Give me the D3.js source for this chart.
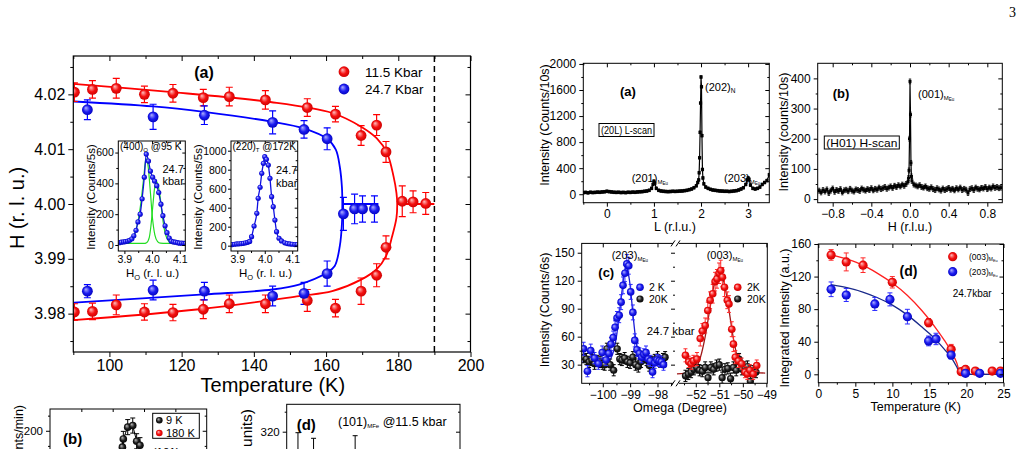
<!DOCTYPE html>
<html><head><meta charset="utf-8">
<script src="https://cdnjs.cloudflare.com/ajax/libs/d3/7.8.5/d3.min.js"></script>
<style>body{margin:0;background:#fff}svg{display:block}</style>
</head><body>
<svg id="c" width="1023" height="449"></svg>
<script>
// ================= DATA =================
// Main panel (a): H vs Temperature
const mainXTicks=[100,120,140,160,180,200];
const mainXMinor=[90,110,130,150,170,190];
const mainYTicks=[3.98,3.99,4.00,4.01,4.02];
const mainYMinor=[3.975,3.985,3.995,4.005,4.015,4.025];
const red115T=[90.3,95.3,101.9,109.7,117.6,126.0,133.2,143.2,154.8,162.6,169.7,174.0,176.6];
const red115Up=[4.0204,4.0209,4.0211,4.0200,4.0202,4.0194,4.0196,4.0190,4.0176,4.0164,4.0125,4.0144,4.0095];
const red115UpErr=[0.0017,0.0016,0.0018,0.0015,0.0016,0.0015,0.0017,0.0017,0.0016,0.0014,0.0018,0.0019,0.0019];
const red115Lo=[3.9803,3.9804,3.9816,3.9803,3.9802,3.9808,3.9818,3.9818,3.9824,3.9810,3.9841,3.9870,3.9921];
const red115LoErr=[0.0015,0.0015,0.0018,0.0015,0.0015,0.0017,0.0016,0.0016,0.0020,0.0016,0.0024,0.0021,0.0021];
const red115HiT=[181.1,184.1,187.6];
const red115Hi=[4.0005,4.0004,4.0001];
const red115HiErr=[0.0028,0.0020,0.0020];
const blue247T=[93.9,112.1,126.3,145.2,153.9,160.3];
const blue247Up=[4.0172,4.0159,4.0162,4.0149,4.0136,4.0119];
const blue247UpErr=[0.0018,0.0023,0.0017,0.0021,0.0016,0.0020];
const blue247Lo=[3.9841,3.9843,3.9841,3.9832,3.9837,3.9873];
const blue247LoErr=[0.0012,0.0018,0.0016,0.0018,0.0020,0.0023];
const blue247HiT=[164.8,167.9,170.1,173.4];
const blue247Hi=[3.9982,3.9991,3.9991,3.9991];
const blue247HiErr=[0.0030,0.0027,0.0024,0.0024];
// fit curves
const red115FitT=[90,115.8,143.3,161.7,169.7,174,176.9,178.7,179.5,179.7,179.5,178.3,176.6,174,169.7,161.7,152.5,124.9,90];
const red115FitH=[4.0219,4.0205,4.0187,4.0166,4.0141,4.0120,4.0093,4.0050,4.0020,4.0000,3.9975,3.9941,3.9905,3.9881,3.9862,3.9841,3.9832,3.9808,3.9788];
const red115FlatT=[179.7,190];
const blue247FitT=[90.2,112.1,126.2,145.2,153.8,160.3,162.7,163.8,164.4,164.5,164.4,163.8,162.4,160.3,152.5,145.2,126.2,90.2];
const blue247FitH=[4.0187,4.0178,4.0168,4.0150,4.0138,4.0119,4.0099,4.0068,4.0030,4.0000,3.9965,3.9923,3.9887,3.9875,3.9853,3.9844,3.9835,3.9820];
const blue247FlatT=[164.5,174.5];
const dashedT=190;
const legendMain=["11.5 Kbar","24.7 Kbar"];

// Inset 1: (400)O @95K
const in1H=[3.882,3.889,3.897,3.904,3.912,3.919,3.927,3.934,3.942,3.949,3.957,3.964,3.972,3.979,3.987,3.994,4.002,4.009,4.017,4.024,4.032,4.039,4.047,4.054,4.062,4.069,4.077,4.084,4.092,4.099,4.107,4.114,4.12];
const in1C=[15,18,20,22,25,30,40,60,95,150,200,300,440,590,545,480,440,415,385,340,265,190,125,80,45,25,20,18,15,12,12,10,10];
const in1G1H=[3.88,3.90,3.92,3.93,3.94,3.95,3.96,3.97,3.978,3.985,3.99,3.995,4.0,4.005,4.01,4.02,4.03,4.05,4.12];
const in1G1C=[12,15,22,38,85,160,280,440,560,520,430,320,200,120,65,22,12,10,10];
const in1G2H=[3.88,3.97,3.98,3.99,3.995,4.0,4.005,4.01,4.017,4.025,4.03,4.035,4.04,4.045,4.05,4.06,4.07,4.09,4.12];
const in1G2C=[10,10,15,50,110,200,300,380,410,360,300,220,150,95,60,25,14,10,10];
// Inset 2: (220)T @172K
const in2H=[3.882,3.890,3.898,3.906,3.914,3.922,3.930,3.938,3.945,3.952,3.961,3.971,3.976,3.983,3.989,3.995,4.000,4.006,4.013,4.019,4.025,4.031,4.037,4.043,4.052,4.061,4.073,4.082,4.091,4.100,4.110,4.118];
const in2C=[12,15,18,20,22,25,30,35,45,95,207,341,499,615,762,867,937,909,849,709,516,411,270,147,78,50,30,22,18,15,12,12];

// Right (a): (20L) L-scan
const lScanL=[-0.5,-0.45,-0.4,-0.35,-0.3,-0.25,-0.2,-0.15,-0.1,-0.05,0,0.05,0.1,0.15,0.2,0.25,0.3,0.35,0.4,0.45,0.5,0.55,0.6,0.65,0.7,0.75,0.8,0.85,0.9,0.95,0.98,1.0,1.02,1.05,1.1,1.15,1.2,1.25,1.3,1.35,1.4,1.45,1.5,1.55,1.6,1.65,1.7,1.75,1.8,1.85,1.9,1.93,1.95,1.96,1.97,1.98,1.99,2.0,2.01,2.02,2.03,2.04,2.06,2.1,2.15,2.2,2.25,2.3,2.35,2.4,2.45,2.5,2.55,2.6,2.65,2.7,2.75,2.8,2.85,2.9,2.95,2.98,3.0,3.02,3.05,3.1,3.15,3.2,3.25,3.3,3.35,3.4,3.45];
const lScanI=[25,28,22,30,26,28,32,30,35,38,45,40,35,30,28,30,26,28,25,30,28,32,30,35,38,40,45,50,60,90,150,200,170,90,60,50,45,42,40,42,45,43,45,48,50,55,60,70,80,100,130,180,220,330,560,950,1400,1800,1650,900,380,250,160,110,90,75,65,60,55,50,48,45,45,42,45,50,55,65,80,100,150,220,250,230,140,90,80,90,110,150,180,210,300];
const lScanErr=20;
// Right (b): (H01) H-scan
const hScanH=[-0.94,-0.92,-0.90,-0.88,-0.86,-0.84,-0.82,-0.80,-0.78,-0.76,-0.74,-0.72,-0.70,-0.68,-0.66,-0.64,-0.62,-0.60,-0.58,-0.56,-0.54,-0.52,-0.50,-0.48,-0.46,-0.44,-0.42,-0.40,-0.38,-0.36,-0.34,-0.32,-0.30,-0.28,-0.26,-0.24,-0.22,-0.20,-0.18,-0.16,-0.14,-0.12,-0.10,-0.08,-0.06,-0.04,-0.02,-0.015,-0.01,-0.005,0,0.005,0.01,0.015,0.02,0.04,0.06,0.08,0.10,0.12,0.14,0.16,0.18,0.20,0.22,0.24,0.26,0.28,0.30,0.32,0.34,0.36,0.38,0.40,0.42,0.44,0.46,0.48,0.50,0.52,0.54,0.56,0.58,0.60,0.62,0.64,0.66,0.68,0.70,0.72,0.74,0.76,0.78,0.80,0.82,0.84,0.86,0.88,0.90,0.92,0.94];
const hScanI=[28,22,30,25,32,20,28,35,24,30,27,33,22,29,31,26,34,28,25,32,30,27,35,31,28,33,30,36,29,34,31,38,33,36,40,34,38,42,37,44,40,46,42,48,44,50,58,70,95,200,390,280,120,75,60,48,45,42,46,40,38,42,36,34,39,33,30,36,32,28,35,30,33,37,31,34,29,36,32,38,30,34,31,20,33,36,30,38,34,32,37,35,40,33,38,35,42,37,40,36,38];
const hScanErr=8;
// Right (c): omega scans
const c2KbOm=[-100.7,-100.56,-100.44,-100.3,-100.16,-100.02,-99.88,-99.78,-99.7,-99.62,-99.55,-99.48,-99.4,-99.33,-99.26,-99.19,-99.12,-99.05,-98.98,-98.9,-98.83,-98.75,-98.66,-98.58,-98.5,-98.42,-98.34,-98.26,-98.18,-98.1,-98.02,-97.94,-97.86,-97.78];
const c2KbI=[47,23,45,37,31,43,35,42,52,59,70,80,83,97,115,128,138,136,108,86,56,46,42,38,41,43,36,34,22,32,35,34,33,30];
const c2KbErr=[7,6,7,6,6,7,6,6,7,7,7,7,8,8,9,9,10,9,8,8,7,7,6,6,6,7,6,6,6,6,6,6,6,6];
const c20KbOm=[-100.7,-100.6,-100.5,-100.4,-100.3,-100.2,-100.1,-100.0,-99.93,-99.85,-99.73,-99.6,-99.47,-99.38,-99.3,-99.2,-99.1,-99.0,-98.9,-98.8,-98.7,-98.6,-98.5,-98.4,-98.3,-98.2,-98.1,-98.0,-97.9,-97.8,-97.72];
const c20KbI=[38,36,33,35,31,34,33,31,30,47,30,24,47,36,35,37,33,32,38,30,28,33,38,35,29,33,35,38,33,36,38];
const cFitBOm=[-100.75,-100.2,-99.8,-99.7,-99.6,-99.5,-99.4,-99.3,-99.2,-99.15,-99.1,-99.0,-98.9,-98.8,-98.7,-98.6,-98.5,-98.4,-97.75];
const cFitBI=[33,33,34,37,45,60,83,108,130,134,132,115,85,58,42,36,34,33,33];
const c2KrOm=[-52.44,-52.3,-52.2,-52.1,-51.95,-51.81,-51.72,-51.6,-51.49,-51.39,-51.28,-51.18,-51.1,-51.01,-50.94,-50.87,-50.78,-50.66,-50.59,-50.47,-50.4,-50.32,-50.19,-50.05,-49.91,-49.81,-49.7,-49.56,-49.41];
const c2KrI=[40,33,31,34,36,58,66,72,88,99,106,119,122,128,131,124,113,99,95,68,52,38,34,31,22,20,24,20,29];
const c2KrErr=[7,6,6,6,7,8,8,8,9,9,10,10,10,11,11,10,10,9,9,8,8,7,7,6,6,6,6,6,6];
const c20KrOm=[-52.44,-52.32,-52.2,-52.08,-51.96,-51.84,-51.72,-51.6,-51.48,-51.36,-51.24,-51.12,-51.0,-50.88,-50.76,-50.64,-50.52,-50.4,-50.28,-50.16,-50.04,-49.92,-49.8,-49.68,-49.56,-49.44];
const c20KrI=[18,20,22,25,27,24,23,27,16,27,25,29,30,16,25,26,15,27,24,36,25,27,28,12,23,22];
const cFitROm=[-52.8,-52.2,-52.0,-51.8,-51.6,-51.4,-51.2,-51.0,-50.8,-50.6,-50.4,-50.2,-50.0,-49.8,-49.05];
const cFitRI=[20,22,26,38,60,90,118,128,118,90,58,35,25,22,21];
// Right (d): integrated intensity vs T
const d003T=[1.73,3.77,6.04,9.99,14.89,17.93,19.29,19.87,21.2,23.47,24.6];
const d003I=[146.6,138,134,113,63.4,30.7,3.2,6,4,4,4];
const d003E=[6.5,11,9,7,5,6,3,4,3,3,3];
const d203T=[1.73,3.77,7.63,9.67,12.03,14.89,15.89,17.93,19.87,21.78,24.6];
const d203I=[104.4,97.4,86.4,92,70.8,41,43.4,23.7,1.2,1.2,1.2];
const d203E=[9,8,8,8,9,6,7,5,3,3,3];
const dFit003T=[1.7,4,6,8,10,12,14,15,16,17,18,18.7,19.2,25];
const dFit003I=[147,141,134,124,112,97,78,67,55,42,27,14,0,0];
const dFit203T=[1.7,4,6,8,10,12,14,15,16,17,18,18.7,19.2,25];
const dFit203I=[110,106,101,94,85,73,58,50,41,31,20,9,0,0];
// Bottom-left partial panels
const pbX=[46.2,46.8,49.6,52.8,55.3,57.4];
const pbY=[178.3,189.2,204.8,206.9,186.1,180.9];
const pbErr=[10,10,10,10,10,10];
const pdX=[13,31,79];
const pdY=[300,296,298];
const pdErr=[19,17.4,18];

// ================= DRAWING =================
const FONT='"Liberation Sans", Arial, Helvetica, sans-serif';
const svg=d3.select('#c');
const defs=svg.append('defs');
function ball(id,c0,c1,c2){const g=defs.append('radialGradient').attr('id',id).attr('cx','50%').attr('cy','50%').attr('r','55%').attr('fx','35%').attr('fy','32%');
 g.append('stop').attr('offset','0%').attr('stop-color',c0);
 g.append('stop').attr('offset','55%').attr('stop-color',c1);
 g.append('stop').attr('offset','100%').attr('stop-color',c2);}
ball('gRed','#ffc0c0','#f41010','#c80000');
ball('gBlue','#b0b0ff','#1c1cf0','#0000b8');
ball('gBlack','#bdbdbd','#202020','#000000');
function clip(id,x,y,w,h){defs.append('clipPath').attr('id',id).append('rect').attr('x',x).attr('y',y).attr('width',w).attr('height',h);}

function styleAx(sel,fs){sel.select('.domain').remove();sel.selectAll('line').attr('stroke','#000');sel.selectAll('text').attr('font-size',fs).attr('font-family',FONT).attr('fill','#000');}
function axes(g,x,y,o){
  const [x0,x1]=x.range(), [y0,y1]=y.range();
  const pad=o.pad==null?3:o.pad;
  const mk=(gen,vals,len,fmt,tx,ty)=>{if(!vals)return;g.append('g').attr('transform',`translate(${tx},${ty})`).call(gen.tickValues(vals).tickSizeInner(len).tickSizeOuter(0).tickPadding(pad).tickFormat(fmt)).call(s=>styleAx(s,o.fs));};
  const none=()=>'';
  if(!o.noX){
  mk(d3.axisBottom(x),o.xMaj,o.tl,o.fx,0,y0);
  mk(d3.axisBottom(x),o.xMin,o.ml,none,0,y0);
  mk(d3.axisTop(x),o.xMaj,-o.tl,none,0,y1);
  mk(d3.axisTop(x),o.xMin,-o.ml,none,0,y1);}
  mk(d3.axisLeft(y),o.yMaj,o.tl,o.fy,x0,0);
  mk(d3.axisLeft(y),o.yMin,o.ml,none,x0,0);
  mk(d3.axisRight(y),o.yMaj,-o.tl,none,x1,0);
  mk(d3.axisRight(y),o.yMin,-o.ml,none,x1,0);
  if(!o.noFrame) g.append('rect').attr('x',x0).attr('y',y1).attr('width',x1-x0).attr('height',y0-y1).attr('fill','none').attr('stroke','#000').attr('stroke-width',o.sw||1);
}
function txt(g,x,y,s,fs,o={}){const t=g.append('text').attr('x',x).attr('y',y).attr('font-size',fs).attr('font-family',o.ff||FONT).attr('font-weight',o.fw||'normal').attr('text-anchor',o.anchor||'start').attr('fill',o.fill||'#000').text(s);if(o.rot)t.attr('transform',`rotate(-90,${x},${y})`);if(o.len)t.attr('textLength',o.len).attr('lengthAdjust','spacingAndGlyphs');return t;}
function rich(g,x,y,parts,o={}){const t=g.append('text').attr('x',x).attr('y',y).attr('font-family',FONT).attr('text-anchor',o.anchor||'start').attr('fill','#000');if(o.rot)t.attr('transform',`rotate(-90,${x},${y})`);parts.forEach(p=>t.append('tspan').attr('font-size',p[1]).attr('dy',p[2]||0).attr('font-weight',p[3]||'normal').text(p[0]));return t;}
function errbars(g,x,y,xs,ys,es,color,cap,w){
  const d=xs.map((v,i)=>({x:v,y:ys[i],e:Array.isArray(es)?es[i]:es}));
  g.append('g').selectAll('line').data(d).join('line').attr('x1',p=>x(p.x)).attr('x2',p=>x(p.x)).attr('y1',p=>y(p.y-p.e)).attr('y2',p=>y(p.y+p.e)).attr('stroke',color).attr('stroke-width',w||1);
  if(cap>0){
  g.append('g').selectAll('line').data(d).join('line').attr('x1',p=>x(p.x)-cap).attr('x2',p=>x(p.x)+cap).attr('y1',p=>y(p.y+p.e)).attr('y2',p=>y(p.y+p.e)).attr('stroke',color).attr('stroke-width',w||1);
  g.append('g').selectAll('line').data(d).join('line').attr('x1',p=>x(p.x)-cap).attr('x2',p=>x(p.x)+cap).attr('y1',p=>y(p.y-p.e)).attr('y2',p=>y(p.y-p.e)).attr('stroke',color).attr('stroke-width',w||1);}
}
function dots(g,x,y,xs,ys,r,fill){g.append('g').selectAll('circle').data(xs.map((v,i)=>[v,ys[i]])).join('circle').attr('cx',d=>x(d[0])).attr('cy',d=>y(d[1])).attr('r',r).attr('fill',fill);}
function curve(g,x,y,xs,ys,color,w,cv){g.append('path').attr('d',d3.line().x(d=>x(d[0])).y(d=>y(d[1])).curve(cv||d3.curveLinear)(xs.map((v,i)=>[v,ys[i]]))).attr('fill','none').attr('stroke',color).attr('stroke-width',w);}

const RED='#ff0000', BLUE='#0000ff';

// ---------- page number
txt(svg,1016,17,'3',14,{ff:'"Liberation Serif", "Times New Roman", serif',anchor:'end'});

// ---------- MAIN PANEL (a)
{
const g=svg.append('g');
const x=d3.scaleLinear().domain([90,200]).range([73.3,470.5]);
const y=d3.scaleLinear().domain([3.973,4.027]).range([352,56]);
clip('clipMain',73.3,56,397.2,296);
const p=g.append('g').attr('clip-path','url(#clipMain)');
p.append('line').attr('x1',x(dashedT)).attr('x2',x(dashedT)).attr('y1',56).attr('y2',352).attr('stroke','#000').attr('stroke-width',1.5).attr('stroke-dasharray','6,4');
curve(p,x,y,red115FitT,red115FitH,RED,1.8,d3.curveCatmullRom.alpha(0.5));
curve(p,x,y,red115FlatT,[4.0,4.0],RED,1.8);
curve(p,x,y,blue247FitT,blue247FitH,BLUE,1.8,d3.curveCatmullRom.alpha(0.5));
curve(p,x,y,blue247FlatT,[4.0,4.0],BLUE,1.8);
errbars(p,x,y,red115T,red115Up,red115UpErr,RED,3.5,1.2);
errbars(p,x,y,red115T,red115Lo,red115LoErr,RED,3.5,1.2);
errbars(p,x,y,red115HiT,red115Hi,red115HiErr,RED,3.5,1.2);
errbars(p,x,y,blue247T,blue247Up,blue247UpErr,BLUE,3.5,1.2);
errbars(p,x,y,blue247T,blue247Lo,blue247LoErr,BLUE,3.5,1.2);
errbars(p,x,y,blue247HiT,blue247Hi,blue247HiErr,BLUE,3.5,1.2);
dots(p,x,y,red115T,red115Up,5.4,'url(#gRed)');
dots(p,x,y,red115T,red115Lo,5.4,'url(#gRed)');
dots(p,x,y,red115HiT,red115Hi,5.4,'url(#gRed)');
dots(p,x,y,blue247T,blue247Up,5.4,'url(#gBlue)');
dots(p,x,y,blue247T,blue247Lo,5.4,'url(#gBlue)');
dots(p,x,y,blue247HiT,blue247Hi,5.4,'url(#gBlue)');
axes(g,x,y,{xMaj:mainXTicks,xMin:mainXMinor,yMaj:mainYTicks,yMin:mainYMinor,fx:d3.format('d'),fy:d3.format('.2f'),fs:16,tl:5,ml:3,pad:3,sw:1.2});
txt(g,272.8,392,'Temperature (K)',20,{anchor:'middle'});
txt(g,24,208,'H (r. l. u.)',20,{anchor:'middle',rot:true});
txt(g,204,78,'(a)',16,{fw:'bold',anchor:'middle'});
g.append('circle').attr('cx',344).attr('cy',71.7).attr('r',5.4).attr('fill','url(#gRed)');
g.append('circle').attr('cx',344).attr('cy',89).attr('r',5.4).attr('fill','url(#gBlue)');
txt(g,365,76.7,legendMain[0],13.5);
txt(g,365,94,legendMain[1],13.5);

// inset 1
const ix1=d3.scaleLinear().domain([3.878,4.12]).range([118.3,185.3]);
const iy1=d3.scaleLinear().domain([-39,675]).range([251,141]);
g.append('rect').attr('x',118.3).attr('y',141).attr('width',67).attr('height',110).attr('fill','#fff');
clip('clipIn1',118.3,141,67,110);
const q1=g.append('g').attr('clip-path','url(#clipIn1)');
curve(q1,ix1,iy1,in1G1H,in1G1C,'#22dd22',1.2,d3.curveMonotoneX);
curve(q1,ix1,iy1,in1G2H,in1G2C,'#22dd22',1.2,d3.curveMonotoneX);
curve(q1,ix1,iy1,in1H,in1C,'#1010e0',1.3,d3.curveMonotoneX);
dots(q1,ix1,iy1,in1H,in1C,2.6,'url(#gBlue)');
axes(g,ix1,iy1,{xMaj:[3.9,4.0,4.1],xMin:[3.95,4.05],yMaj:[0,200,400,600],yMin:[100,300,500],fx:d3.format('.1f'),fy:d3.format('d'),fs:10.5,tl:3,ml:2,pad:1.5});
rich(g,120,150,[['(400)',10],['O',6,2],[' @95 K',10,-2]]);
txt(g,162.5,173,'24.7',11);
txt(g,162.5,185,'kbar',11);
txt(g,94.5,197,'Intensity (Counts/5s)',11.5,{anchor:'middle',rot:true});
rich(g,152.5,277,[['H',11.5],['O',7.5,3],[' (r. l. u.)',11.5,-3]],{anchor:'middle'});

// inset 2
const ix2=d3.scaleLinear().domain([3.877,4.12]).range([231,297.7]);
const iy2=d3.scaleLinear().domain([-56,1102]).range([251,141]);
g.append('rect').attr('x',231).attr('y',141).attr('width',66.7).attr('height',110).attr('fill','#fff');
clip('clipIn2',231,141,66.7,110);
const q2=g.append('g').attr('clip-path','url(#clipIn2)');
curve(q2,ix2,iy2,in2H,in2C,'#1010e0',1.3,d3.curveMonotoneX);
dots(q2,ix2,iy2,in2H,in2C,2.6,'url(#gBlue)');
axes(g,ix2,iy2,{xMaj:[3.9,4.0,4.1],xMin:[3.95,4.05],yMaj:[0,200,400,600,800,1000],yMin:[100,300,500,700,900],fx:d3.format('.1f'),fy:d3.format('d'),fs:10.5,tl:3,ml:2,pad:1.5});
rich(g,232.5,150,[['(220)',10],['T',6,2],[' @172K',10,-2]]);
txt(g,276,174,'24.7',11);
txt(g,276,187,'kbar',11);
txt(g,202,197,'Intensity (Counts/5s)',11.5,{anchor:'middle',rot:true});
rich(g,265.5,277,[['H',11.5],['O',7.5,3],[' (r. l. u.)',11.5,-3]],{anchor:'middle'});
}

// ---------- RIGHT (a) L-scan
{
const g=svg.append('g');
const x=d3.scaleLinear().domain([-0.5,3.45]).range([583.3,769.3]);
const y=d3.scaleLinear().domain([-130,2010]).range([202.7,63.3]);
clip('clipRA',583.3,63.3,186,139.4);
const p=g.append('g').attr('clip-path','url(#clipRA)');
curve(p,x,y,lScanL,lScanI,'#000',1.2);
errbars(p,x,y,lScanL,lScanI,lScanErr,'#000',1.2,0.8);
p.append('g').selectAll('rect').data(lScanL.map((v,i)=>[v,lScanI[i]])).join('rect').attr('x',d=>x(d[0])-1.6).attr('y',d=>y(d[1])-1.6).attr('width',3.2).attr('height',3.2).attr('fill','#000');
axes(g,x,y,{xMaj:[0,1,2,3],xMin:[-0.5,0.5,1.5,2.5],yMaj:[0,400,800,1200,1600,2000],yMin:[200,600,1000,1400,1800],fx:d3.format('d'),fy:d3.format('d'),fs:12,tl:4,ml:2,pad:3});
txt(g,620,96,'(a)',13,{fw:'bold'});
rich(g,705,91,[['(202)',11],['N',6.5,1.5]]);
const bt=txt(g,601,134,'(20L) L-scan',11.5,{len:51});
const bb=bt.node().getBBox();
g.append('rect').attr('x',bb.x-2).attr('y',bb.y-0.5).attr('width',bb.width+4).attr('height',bb.height+1).attr('fill','none').attr('stroke','#000').attr('stroke-width',1);
rich(g,631.7,182,[['(201)',11],['M',6,1.5],['Eu',4.5,1]]);
rich(g,724,182,[['(203)',11],['M',6,1.5],['Eu',4.5,1]]);
txt(g,675,231,'L (r.l.u.)',12.5,{anchor:'middle'});
txt(g,549,125,'Intensity (Counts/10s)',12.5,{anchor:'middle',rot:true});
}

// ---------- RIGHT (b) H-scan
{
const g=svg.append('g');
const x=d3.scaleLinear().domain([-0.955,0.955]).range([817.7,1002.3]);
const y=d3.scaleLinear().domain([-12,450]).range([202.7,63.3]);
clip('clipRB',817.7,63.3,184.6,139.4);
const p=g.append('g').attr('clip-path','url(#clipRB)');
curve(p,x,y,hScanH,hScanI,'#000',1.2);
errbars(p,x,y,hScanH,hScanI,hScanErr,'#000',1.2,0.8);
p.append('g').selectAll('rect').data(hScanH.map((v,i)=>[v,hScanI[i]])).join('rect').attr('x',d=>x(d[0])-1.5).attr('y',d=>y(d[1])-1.5).attr('width',3).attr('height',3).attr('fill','#000');
axes(g,x,y,{xMaj:[-0.8,-0.4,0,0.4,0.8],xMin:[-0.6,-0.2,0.2,0.6],yMaj:[0,100,200,300,400],yMin:[50,150,250,350],fx:d3.format('.1f'),fy:d3.format('d'),fs:12,tl:4,ml:2,pad:3});
txt(g,832.7,98,'(b)',13,{fw:'bold'});
rich(g,918,98,[['(001)',11],['M',6,1.5],['Eu',4.5,1]]);
const bt=txt(g,826.3,146.5,'(H01) H-scan',11.5,{len:71});
const bb=bt.node().getBBox();
g.append('rect').attr('x',bb.x-2).attr('y',bb.y-0.5).attr('width',bb.width+4).attr('height',bb.height+1).attr('fill','none').attr('stroke','#000').attr('stroke-width',1);
txt(g,910,231,'H (r.l.u.)',12.5,{anchor:'middle'});
txt(g,788,132,'Intensity (counts/10s)',12.5,{anchor:'middle',rot:true});
}

// ---------- RIGHT (c) omega scans, broken axis
{
const g=svg.append('g');
const xL=d3.scaleLinear().domain([-100.77,-97.36]).range([581.7,675]);
const xR=d3.scaleLinear().domain([-52.82,-48.96]).range([676.5,767.3]);
const y=d3.scaleLinear().domain([10,160]).range([383.3,243.4]);
clip('clipCL',581.7,243.4,93.3,139.9);
clip('clipCR',676.5,243.4,90.8,139.9);
const pl=g.append('g').attr('clip-path','url(#clipCL)');
const pr=g.append('g').attr('clip-path','url(#clipCR)');
curve(pl,xL,y,cFitBOm,cFitBI,'#1a1ad8',1.3,d3.curveMonotoneX);
errbars(pl,xL,y,c20KbOm,c20KbI,6,'#000',2,1);
dots(pl,xL,y,c20KbOm,c20KbI,3.6,'url(#gBlack)');
errbars(pl,xL,y,c2KbOm,c2KbI,c2KbErr,'#2a2aff',2,1);
dots(pl,xL,y,c2KbOm,c2KbI,3.8,'url(#gBlue)');
curve(pr,xR,y,cFitROm,cFitRI,'#a01818',1.3,d3.curveMonotoneX);
errbars(pr,xR,y,c20KrOm,c20KrI,6,'#000',2,1);
dots(pr,xR,y,c20KrOm,c20KrI,3.6,'url(#gBlack)');
errbars(pr,xR,y,c2KrOm,c2KrI,c2KrErr,'#ff2a2a',2,1);
dots(pr,xR,y,c2KrOm,c2KrI,3.8,'url(#gRed)');
axes(g,xL,y,{noX:true,yMaj:[30,60,90,120,150],yMin:[45,75,105,135],fy:d3.format('d'),fs:12,tl:4,ml:2,pad:3,noFrame:true});
g.append('rect').attr('x',581.7).attr('y',243.4).attr('width',185.6).attr('height',139.9).attr('fill','none').attr('stroke','#000');
const mk=(gen,vals,len,fmt,ty)=>g.append('g').attr('transform',`translate(0,${ty})`).call(gen.tickValues(vals).tickSizeInner(len).tickSizeOuter(0).tickPadding(3).tickFormat(fmt)).call(s=>styleAx(s,12));
mk(d3.axisBottom(xL),[-100,-99,-98],4,d3.format('d'),383.3);
mk(d3.axisBottom(xL),[-100.5,-99.5,-98.5,-97.5],2,()=>'',383.3);
mk(d3.axisBottom(xR),[-52,-51,-50,-49],4,d3.format('d'),383.3);
mk(d3.axisBottom(xR),[-52.5,-51.5,-50.5,-49.5],2,()=>'',383.3);
mk(d3.axisTop(xL),[-100,-99,-98],-4,()=>'',243.4);
mk(d3.axisTop(xR),[-52,-51,-50,-49],-4,()=>'',243.4);
[243.4,383.3].forEach(yy=>{
  g.append('rect').attr('x',673).attr('y',yy-2).attr('width',6).attr('height',4).attr('fill','#fff');
  g.append('line').attr('x1',671).attr('x2',675).attr('y1',yy+3).attr('y2',yy-3).attr('stroke','#000');
  g.append('line').attr('x1',676).attr('x2',680).attr('y1',yy+3).attr('y2',yy-3).attr('stroke','#000');
});
rich(g,611.7,259,[['(203)',11],['M',6,1.5],['Eu',4.5,1]]);
rich(g,706.7,259,[['(003)',11],['M',6,1.5],['Eu',4.5,1]]);
txt(g,598.3,277,'(c)',13,{fw:'bold'});
txt(g,646.7,334.5,'24.7 kbar',11.5);
g.append('circle').attr('cx',640).attr('cy',287.3).attr('r',3.8).attr('fill','url(#gBlue)');
g.append('circle').attr('cx',640).attr('cy',299).attr('r',3.6).attr('fill','url(#gBlack)');
txt(g,649,291,'2 K',10.5); txt(g,649,303,'20K',10.5);
g.append('circle').attr('cx',737.7).attr('cy',287.3).attr('r',3.8).attr('fill','url(#gRed)');
g.append('circle').attr('cx',737.7).attr('cy',299).attr('r',3.6).attr('fill','url(#gBlack)');
txt(g,747,291,'2K',10.5); txt(g,747,303,'20K',10.5);
txt(g,680,412,'Omega (Degree)',12.5,{anchor:'middle'});
txt(g,549,310,'Intensity (Counts/6s)',12.5,{anchor:'middle',rot:true});
}

// ---------- RIGHT (d) integrated intensity
{
const g=svg.append('g');
const x=d3.scaleLinear().domain([0,25]).range([818.3,1003.5]);
const y=d3.scaleLinear().domain([-10.3,160]).range([382.7,244]);
clip('clipRD',818.3,244,185.2,138.7);
const p=g.append('g').attr('clip-path','url(#clipRD)');
curve(p,x,y,dFit003T,dFit003I,'#ff2020',1.3,d3.curveMonotoneX);
curve(p,x,y,dFit203T,dFit203I,'#1a2a8a',1.3,d3.curveMonotoneX);
errbars(p,x,y,d003T,d003I,d003E,'#ff2a2a',2.5,1);
errbars(p,x,y,d203T,d203I,d203E,'#2a2aff',2.5,1);
dots(p,x,y,d003T,d003I,4.6,'url(#gRed)');
dots(p,x,y,d203T,d203I,4.6,'url(#gBlue)');
axes(g,x,y,{xMaj:[0,5,10,15,20,25],xMin:[2.5,7.5,12.5,17.5,22.5],yMaj:[0,40,80,120,160],yMin:[20,60,100,140],fx:d3.format('d'),fy:d3.format('d'),fs:12,tl:4,ml:2,pad:3});
g.append('circle').attr('cx',952.7).attr('cy',256.7).attr('r',4.6).attr('fill','url(#gRed)');
g.append('circle').attr('cx',952.7).attr('cy',271.7).attr('r',4.6).attr('fill','url(#gBlue)');
rich(g,969,260,[['(003)',8.5],['M',5,1.2],['Eu',3.8,0.8]]);
rich(g,969,275,[['(203)',8.5],['M',5,1.2],['Eu',3.8,0.8]]);
txt(g,899.5,276,'(d)',14,{fw:'bold'});
txt(g,952.7,297,'24.7kbar',10);
txt(g,915.7,411,'Temperature (K)',12.5,{anchor:'middle'});
txt(g,789,318,'Integrated Intensity (a.u.)',12.5,{anchor:'middle',rot:true});
}

// ---------- BOTTOM-LEFT partial panel (b)
{
const g=svg.append('g');
const x=d3.scaleLinear().domain([0,100]).range([50,206.7]);
const y=d3.scaleLinear().domain([160,228.8]).range([461,409]);
g.append('rect').attr('x',50).attr('y',409).attr('width',156.7).attr('height',80).attr('fill','none').attr('stroke','#000');
const mk=(gen,vals,len,fmt,tx,ty)=>g.append('g').attr('transform',`translate(${tx},${ty})`).call(gen.tickValues(vals).tickSizeInner(len).tickSizeOuter(0).tickPadding(3).tickFormat(fmt)).call(s=>styleAx(s,11.5));
mk(d3.axisLeft(y),[200],4,d3.format('d'),50,0);
mk(d3.axisLeft(y),[180,220],2,()=>'',50,0);
mk(d3.axisRight(y),[200],-4,()=>'',206.7,0);
mk(d3.axisRight(y),[180,220],-2,()=>'',206.7,0);
mk(d3.axisTop(x),[20,40,60,80],-3,()=>'',0,409);
curve(g,x,y,pbX,pbY,'#000',1);
errbars(g,x,y,pbX,pbY,pbErr,'#000',2.5,1);
dots(g,x,y,pbX,pbY,3.8,'url(#gBlack)');
g.append('rect').attr('x',152.7).attr('y',413.3).attr('width',46.6).attr('height',25).attr('fill','#fff').attr('stroke','#000');
g.append('circle').attr('cx',159.3).attr('cy',420.3).attr('r',3.3).attr('fill','url(#gBlack)');
g.append('circle').attr('cx',159.3).attr('cy',433).attr('r',3.3).attr('fill','url(#gRed)');
txt(g,166,424,'9 K',11); txt(g,166,437,'180 K',11);
txt(g,63,444,'(b)',15,{fw:'bold'});
txt(g,152.7,456,'(101)',11.5);
txt(g,23,405,'Intensity (counts/min)',12.5,{anchor:'end',rot:true});
}
// ---------- BOTTOM-LEFT partial panel (d)
{
const g=svg.append('g');
const x=d3.scaleLinear().domain([0,200]).range([286.7,460]);
const y=d3.scaleLinear().domain([280,347.4]).range([471.7,404.3]);
g.append('rect').attr('x',286.7).attr('y',404.3).attr('width',173.3).attr('height',80).attr('fill','none').attr('stroke','#000');
const mk=(gen,vals,len,fmt,tx,ty)=>g.append('g').attr('transform',`translate(${tx},${ty})`).call(gen.tickValues(vals).tickSizeInner(len).tickSizeOuter(0).tickPadding(3).tickFormat(fmt)).call(s=>styleAx(s,11.5));
mk(d3.axisLeft(y),[320],4,d3.format('d'),286.7,0);
mk(d3.axisLeft(y),[300,340],2,()=>'',286.7,0);
mk(d3.axisRight(y),[320],-4,()=>'',460,0);
mk(d3.axisRight(y),[300,340],-2,()=>'',460,0);
errbars(g,x,y,pdX,pdY,pdErr,'#000',2.5,1);
txt(g,296.7,430,'(d)',15,{fw:'bold'});
rich(g,338,426,[['(101)',12.5],['MFe',6,2],[' @11.5 kbar',12.5,-2]]);
txt(g,252,409,'Intensity (arb. units)',15.5,{anchor:'end',rot:true});
}
</script>
</body></html>
